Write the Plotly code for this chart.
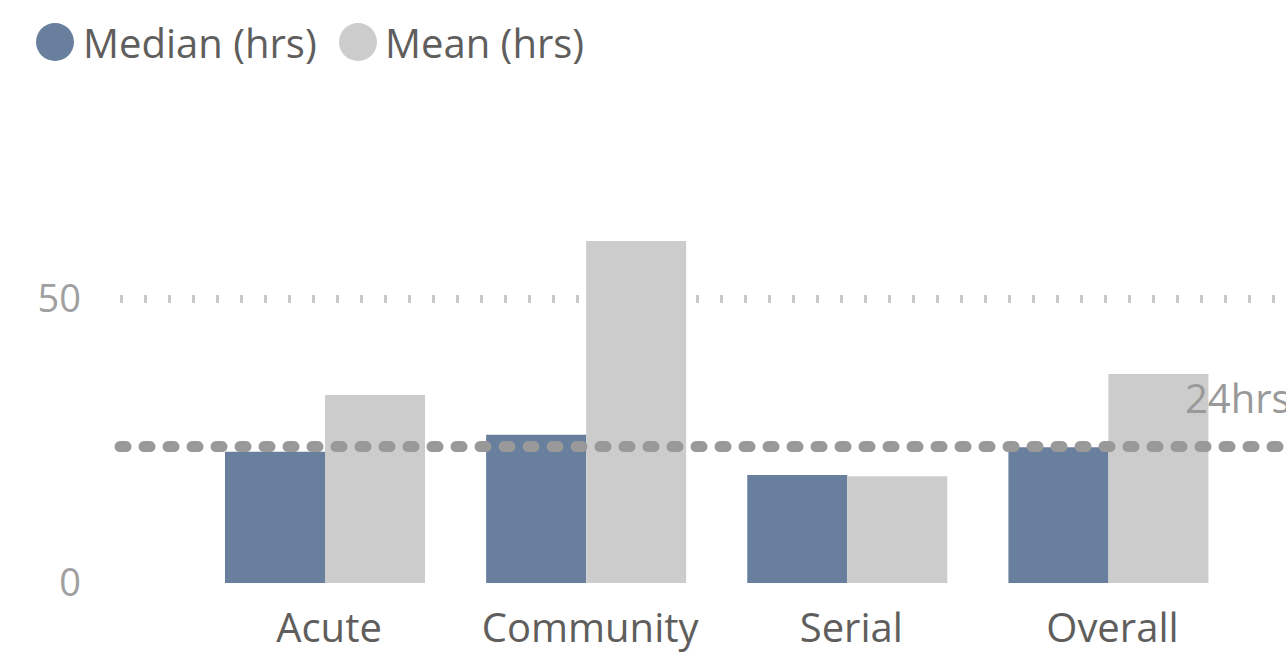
import plotly.graph_objects as go

categories = ["Acute", "Community", "Serial", "Overall"]
series_names = ["Median (hrs)", "Mean (hrs)"]
median_hrs = [23.1, 26.1, 19.0, 23.9]
mean_hrs = [33.1, 60.2, 18.8, 36.8]
target_hrs = 24
target_label = "24hrs"
y_tick_vals = [0, 50]
y_tick_text = ["0", "50"]

COL_MEDIAN = "#687F9E"
COL_MEAN = "#CCCCCC"
FONT = "Segoe UI, Open Sans, sans-serif"

W, H = 1286, 654
ML, MR, MT, MB = 120, 0, 100, 71
PW, PH = W - ML - MR, H - MT - MB


def px_x(px):
    return (px - ML) / PW


def px_y(py):
    return (H - MB - py) / PH


fig = go.Figure()
fig.add_trace(go.Bar(x=categories, y=median_hrs, name=series_names[0],
                     marker=dict(color=COL_MEDIAN, line=dict(width=0))))
fig.add_trace(go.Bar(x=categories, y=mean_hrs, name=series_names[1],
                     marker=dict(color=COL_MEAN, line=dict(width=0))))

# target line
fig.add_shape(type="line", xref="paper", x0=0, x1=1, yref="y",
              y0=target_hrs, y1=target_hrs,
              line=dict(color="#999999", width=11, dash="6px,18px"),
              layer="above")
fig.add_annotation(text=target_label, xref="paper", x=px_x(1183), xanchor="left",
                   yref="y", y=target_hrs, yanchor="middle", yshift=49,
                   showarrow=False, font=dict(family=FONT, size=40, color="#999999"))

# custom legend
legend_items = [(series_names[0], COL_MEDIAN, 55, 81), (series_names[1], COL_MEAN, 358, 383)]
for name, col, cx, tx in legend_items:
    fig.add_shape(type="circle", xref="paper", yref="paper",
                  xsizemode="pixel", ysizemode="pixel",
                  xanchor=px_x(cx), yanchor=px_y(42),
                  x0=-19, x1=19, y0=-19, y1=19,
                  fillcolor=col, line=dict(width=0), layer="above")
    fig.add_annotation(text=name, xref="paper", yref="paper",
                       x=px_x(tx), xanchor="left", y=px_y(42), yanchor="middle",
                       showarrow=False, font=dict(family=FONT, size=40, color="#605E5C"))

fig.update_layout(
    width=W, height=H,
    margin=dict(l=ML, r=MR, t=MT, b=MB),
    plot_bgcolor="white", paper_bgcolor="white",
    barmode="group", bargap=0.234, bargroupgap=0,
    showlegend=False,
    font=dict(family=FONT),
)
fig.update_xaxes(range=[-0.785, 3.68], showgrid=False, showline=False, zeroline=False,
                 ticks="", tickfont=dict(family=FONT, size=40, color="#605E5C"),
                 ticklabelstandoff=18, ticklabelshift=4)
fig.update_yaxes(range=[0, 85], tickvals=y_tick_vals, ticktext=y_tick_text,
                 showgrid=True, gridcolor="#C8C8C8", gridwidth=8, griddash="3px,21px",
                 zeroline=False, showline=False, ticks="",
                 tickfont=dict(family=FONT, size=38, color="#A0A0A0"),
                 ticklabelstandoff=38)

post = """
document.body.style.margin = '0';
document.querySelectorAll('.shapelayer path').forEach(function(p){
  p.style.strokeLinecap = 'round';
});
"""
fig.write_html("out.html", post_script=post, config={"displayModeBar": False})
